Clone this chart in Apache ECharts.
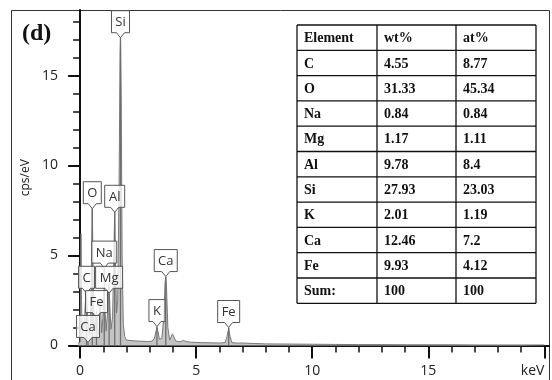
<!DOCTYPE html>
<html>
<head>
<meta charset="utf-8">
<script src="https://cdn.jsdelivr.net/npm/echarts@6/dist/echarts.min.js"></script>
<style>
  html, body { margin: 0; padding: 0; background: #fff; }
  #EdsChart { width: 552px; height: 380px; }
</style>
</head>
<body>
<div id="EdsChart"></div>
<script>
  // 能谱数据 (keV, cps/eV)
  const energy = [
    -0.1, 0.0, 0.02, 0.04, 0.06, 0.09, 0.14, 0.18, 0.22, 0.26, 0.28, 0.31, 0.34, 0.37, 0.41,
    0.45, 0.49, 0.525, 0.56, 0.6, 0.64, 0.68, 0.705, 0.73, 0.77, 0.82, 0.86, 0.89, 0.93, 0.98,
    1.02, 1.04, 1.07, 1.12, 1.18, 1.23, 1.25, 1.28, 1.33, 1.4, 1.46, 1.49, 1.52, 1.57, 1.62,
    1.68, 1.72, 1.74, 1.77, 1.81, 1.86, 1.92, 2.0, 2.3, 2.6, 2.9, 3.1, 3.2, 3.27, 3.31,
    3.35, 3.42, 3.52, 3.6, 3.66, 3.69, 3.72, 3.78, 3.86, 3.93, 3.98, 4.01, 4.05, 4.12, 4.3,
    4.45, 4.51, 4.57, 4.8, 5.2, 5.6, 6.0, 6.25, 6.33, 6.4, 6.46, 6.54, 6.8, 7.0, 7.06,
    7.12, 7.5, 8.0, 9.0, 10.0, 11.0, 12.0, 13.0, 14.0, 15.0, 16.0, 17.0, 18.0, 19.0, 20.0
  ];
  const cps = [
    0.1, 0.2, 3.0, 6.2, 2.5, 0.6, 0.5, 1.2, 2.2, 3.1, 3.2, 2.0, 1.3, 0.9, 0.6,
    1.4, 4.5, 7.6, 4.2, 1.0, 0.8, 1.6, 1.9, 1.5, 0.6, 0.9, 2.6, 1.8, 0.7, 1.5,
    2.8, 3.0, 2.0, 0.8, 1.8, 3.2, 3.4, 2.2, 0.9, 1.6, 5.5, 7.4, 5.0, 1.8, 2.5,
    9.0, 16.0, 17.1, 14.0, 5.0, 1.2, 0.5, 0.3, 0.26, 0.24, 0.22, 0.24, 0.4, 0.8, 1.0,
    0.8, 0.35, 0.4, 1.5, 3.5, 3.8, 3.3, 1.0, 0.3, 0.4, 0.65, 0.7, 0.55, 0.25, 0.2,
    0.28, 0.33, 0.22, 0.18, 0.16, 0.15, 0.14, 0.16, 0.5, 0.95, 0.5, 0.16, 0.13, 0.14, 0.24,
    0.13, 0.11, 0.09, 0.08, 0.07, 0.06, 0.05, 0.05, 0.04, 0.04, 0.04, 0.03, 0.03, 0.03, 0.03
  ];

  // 元素标记
  const markerNames = ['Si', 'O', 'Al', 'Na', 'C', 'Mg', 'Fe', 'Ca', 'Ca', 'K', 'Fe'];
  const markerEnergy = [1.74, 0.525, 1.49, 1.04, 0.277, 1.25, 0.705, 0.341, 3.69, 3.31, 6.40];
  const markerTop = [17.1, 7.6, 7.4, 4.3, 2.9, 2.9, 1.55, 0.17, 3.83, 1.05, 1.0];

  // 坐标刻度
  const xMajor = [0, 5, 10, 15, 20];
  const xMinor = [0, 1, 2, 3, 4, 5, 6, 7, 8, 9, 10, 11, 12, 13, 14, 15, 16, 17, 18, 19, 20];
  const yMajor = [0, 5, 10, 15];
  const yMinor = [0, 1, 2, 3, 4, 5, 6, 7, 8, 9, 10, 11, 12, 13, 14, 15, 16, 17, 18];

  // 表格
  const tableHead = ['Element', 'wt%', 'at%'];
  const tableElement = ['C', 'O', 'Na', 'Mg', 'Al', 'Si', 'K', 'Ca', 'Fe', 'Sum:'];
  const tableWt = ['4.55', '31.33', '0.84', '1.17', '9.78', '27.93', '2.01', '12.46', '9.93', '100'];
  const tableAt = ['8.77', '45.34', '0.84', '1.11', '8.4', '23.03', '1.19', '7.2', '4.12', '100'];

  const X_MIN = -0.22, X_MAX = 20.2, Y_MAX = 18.64;
  const labelFont = '13px "Open Sans"';

  let measureCtx = document.createElement('canvas').getContext('2d');
  measureCtx.font = labelFont;

  function buildTable() {
    let colX = [297, 377, 456, 536];
    let top = 25, rowH = 25.3;
    let rows = [tableHead];
    for (let i = 0; i < tableElement.length; i++) {
      rows.push([tableElement[i], tableWt[i], tableAt[i]]);
    }
    let children = [];
    let bottom = top + rowH * rows.length;
    for (let r = 0; r <= rows.length; r++) {
      children.push({
        type: 'line',
        shape: {x1: colX[0], y1: top + r * rowH, x2: colX[3], y2: top + r * rowH},
        style: {stroke: '#111', lineWidth: 1.3}
      });
    }
    for (let c = 0; c < colX.length; c++) {
      children.push({
        type: 'line',
        shape: {x1: colX[c], y1: top, x2: colX[c], y2: bottom},
        style: {stroke: '#111', lineWidth: 1.3}
      });
    }
    rows.forEach(function (row, r) {
      row.forEach(function (txt, c) {
        children.push({
          type: 'text',
          x: colX[c] + 7,
          y: top + r * rowH + rowH / 2 + 1,
          style: {
            text: txt,
            fill: '#111',
            font: 'bold 14px "Liberation Serif"',
            verticalAlign: 'middle'
          }
        });
      });
    });
    return {type: 'group', children: children, z: 10};
  }

  function renderMarker(params, api) {
    let e = api.value(0);
    let top = api.value(1);
    let name = markerNames[params.dataIndex];
    let tip = api.coord([e, top]);
    let base = api.coord([e, 0]);
    let w = Math.round(measureCtx.measureText(name).width) + 8;
    let h = 22, p = 5;
    let x = tip[0], y = tip[1];
    let l = x - w / 2, r = x + w / 2, bt = y - p, tp = y - p - h;
    return {
      type: 'group',
      children: [{
        type: 'line',
        shape: {x1: x, y1: y, x2: x, y2: base[1]},
        style: {stroke: '#6e6e6e', lineWidth: 1.3}
      }, {
        type: 'polygon',
        shape: {points: [[l, tp], [r, tp], [r, bt], [x + 4, bt], [x, y], [x - 4, bt], [l, bt]]},
        style: {fill: 'rgba(255,255,255,0.8)', stroke: '#555', lineWidth: 1}
      }, {
        type: 'text',
        x: x,
        y: tp + h / 2 + 1,
        style: {
          text: name,
          font: labelFont,
          fill: '#333',
          align: 'center',
          verticalAlign: 'middle'
        }
      }]
    };
  }

  let myChart = echarts.init(document.getElementById('EdsChart'));

  let spectrum = energy.map(function (e, i) {
    return [e, cps[i]];
  });
  let markers = markerEnergy.map(function (e, i) {
    return [e, markerTop[i]];
  });

  myChart.setOption({
    animation: false,
    grid: {
      left: 75,
      right: 3,
      top: 10,
      bottom: 34.5,
      containLabel: false,
      outerBoundsMode: 'none'
    },
    xAxis: [{
      type: 'value',
      min: X_MIN,
      max: X_MAX,
      position: 'bottom',
      splitLine: {show: false},
      axisLine: {show: true, onZero: false, lineStyle: {color: '#111', width: 2}},
      axisTick: {show: true, customValues: xMajor, length: 13, lineStyle: {color: '#111', width: 2}},
      axisLabel: {
        show: true,
        customValues: xMajor,
        margin: 19,
        color: '#222',
        fontSize: 14,
        fontFamily: 'Open Sans',
        alignMaxLabel: 'right',
        formatter: function (v) {
          return v === 20 ? 'keV' : String(v);
        }
      }
    }, {
      type: 'value',
      min: X_MIN,
      max: X_MAX,
      position: 'bottom',
      splitLine: {show: false},
      axisLine: {show: false},
      axisLabel: {show: false},
      axisTick: {show: true, customValues: xMinor, length: 7, lineStyle: {color: '#111', width: 1.5}}
    }],
    yAxis: [{
      type: 'value',
      min: 0,
      max: Y_MAX,
      position: 'left',
      name: 'cps/eV',
      nameLocation: 'middle',
      nameGap: 42,
      nameRotate: 90,
      nameTextStyle: {color: '#222', fontSize: 12, fontFamily: 'Open Sans'},
      splitLine: {show: false},
      axisLine: {show: true, lineStyle: {color: '#111', width: 2}},
      axisTick: {show: true, customValues: yMajor, length: 12, lineStyle: {color: '#111', width: 2}},
      axisLabel: {
        show: true,
        customValues: yMajor,
        margin: 17,
        color: '#222',
        fontSize: 14,
        fontFamily: 'Open Sans'
      }
    }, {
      type: 'value',
      min: 0,
      max: Y_MAX,
      position: 'left',
      splitLine: {show: false},
      axisLine: {show: false},
      axisLabel: {show: false},
      axisTick: {show: true, customValues: yMinor, length: 7, lineStyle: {color: '#111', width: 1.5}}
    }],
    graphic: [{
      type: 'rect',
      shape: {x: 11.5, y: 10.5, width: 538, height: 400},
      style: {fill: 'none', stroke: '#333', lineWidth: 1},
      silent: true,
      z: -1
    }, {
      type: 'text',
      left: 22,
      top: 22,
      style: {text: '(d)', font: 'bold 24px "Liberation Serif"', fill: '#111'}
    }, buildTable()],
    series: [{
      name: 'spectrum',
      type: 'line',
      xAxisIndex: 0,
      yAxisIndex: 0,
      data: spectrum,
      symbol: 'none',
      smooth: false,
      lineStyle: {color: '#7a7a7a', width: 1},
      areaStyle: {color: '#c4c4c4', opacity: 1},
      z: 2
    }, {
      name: 'markers',
      type: 'custom',
      xAxisIndex: 0,
      yAxisIndex: 0,
      data: markers,
      renderItem: renderMarker,
      clip: false,
      z: 3
    }]
  });
</script>
</body>
</html>
